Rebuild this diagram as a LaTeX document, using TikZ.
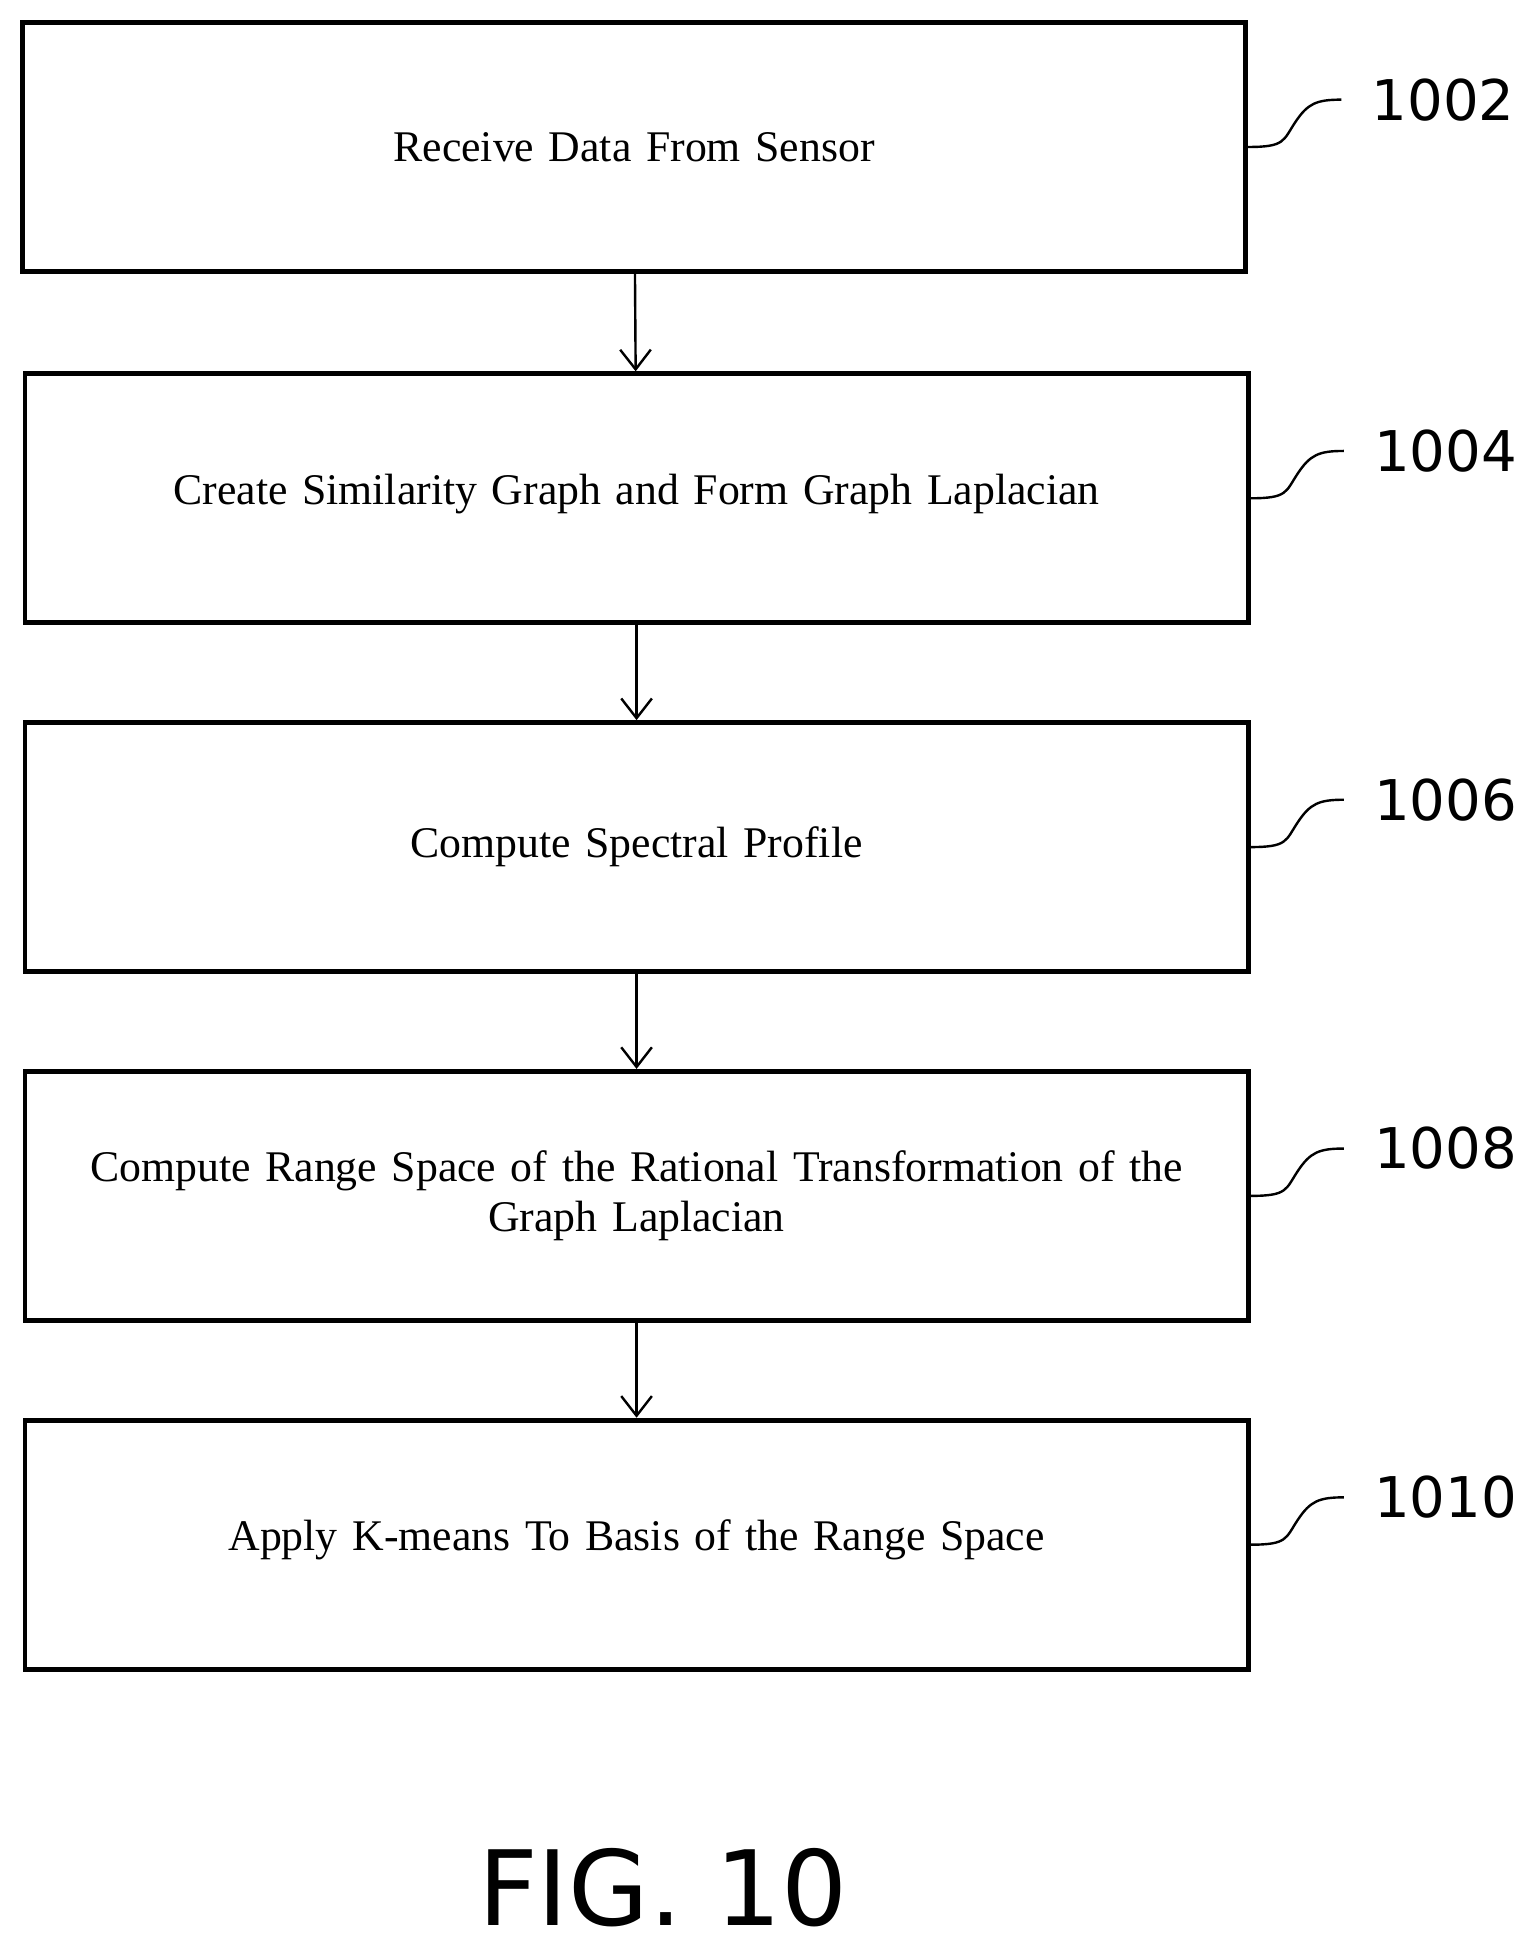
\documentclass[tikz,border=0pt]{standalone}
\usepackage{fontspec}
\setmainfont{Liberation Serif}
\newfontfamily\reffont{DejaVu Sans}[Scale=0.95]
\usetikzlibrary{positioning,arrows.meta,calc}
\tikzset{
    stage/.style = {
        draw,
        shape=rectangle,
        minimum height=4cm,
        minimum width=19.64cm,
        line width=2.2pt,
        align=center,
        text width=18.6cm,
        font=\fontsize{20}{25}\selectfont
    },
    flow/.style = {
        draw,
        line width=1.1pt,
        -{Straight Barb[length=9pt,width=14pt]}
    },
    lead/.style = {
        draw,
        line width=1.1pt
    },
    refnum/.style = {
        anchor=west,
        font=\reffont\fontsize{27}{27}\selectfont
    },
    >=latex,
}
\begin{document}
\begin{tikzpicture}[x=0.02cm,y=-0.02cm]
    \useasboundingbox (0,0) rectangle (1220,1571);

    \node[stage] (recv) at (509,118) {Receive Data From Sensor};
    \node[stage] (graph) at (511,400) {\raisebox{0.3cm}{Create Similarity Graph and Form Graph Laplacian}};
    \node[stage] (prof) at (511,680) {\raisebox{0.1cm}{Compute Spectral Profile}};
    \node[stage] (range) at (511,960) {\raisebox{0.1cm}{\parbox{18.6cm}{\centering Compute Range Space of the Rational Transformation of the\\[-2pt] Graph Laplacian}}};
    \node[stage] (kmeans) at (511,1240) {\raisebox{0.3cm}{Apply K-means To Basis of the Range Space}};

    \path[flow] (recv) -- (graph);
    \path[flow] (graph) -- (prof);
    \path[flow] (prof) -- (range);
    \path[flow] (range) -- (kmeans);

    % reference numerals with leader curves
    \foreach \blk/\num in {recv/1002,graph/1004,prof/1006,range/1008,kmeans/1010}{
        \coordinate (\blk tip) at ($(\blk.east)+(75,-38)$);
        \path[lead] (\blk.east) .. controls ($(\blk.east)+(30,0)$) and ($(\blk.east)+(28,-5)$) .. ($(\blk.east)+(38,-20)$)
            .. controls ($(\blk.east)+(48,-35)$) and ($(\blk.east)+(55,-38)$) .. (\blk tip);
        \node[refnum] (\blk num) at ($(\blk tip)+(18,0)$) {\num};
    }

    \node[font=\reffont\fontsize{50}{50}\selectfont] (fig) at (532,1515) {FIG. 10};
\end{tikzpicture}
\end{document}
